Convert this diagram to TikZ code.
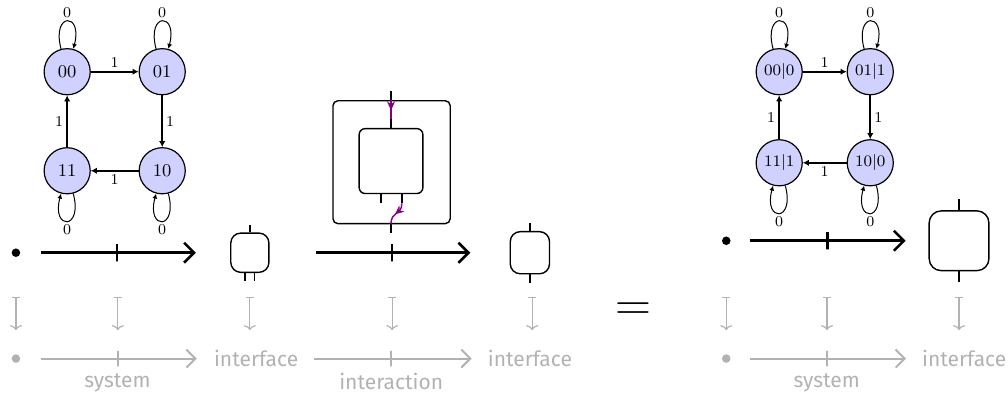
\documentclass[tikz,border=0pt]{standalone}
\usepackage{xcolor}
\usepackage{fontspec}
\usepackage{tikz}
\usetikzlibrary{arrows.meta,decorations.markings}
\newfontfamily\lblfont{Fira Sans}
\definecolor{wirepurple}{RGB}{128,0,128}
\colorlet{ghost}{black!30}

\tikzset{
  every loop/.style={},
  state/.style={circle,draw,line width=0.6pt,fill=blue!18,minimum size=0.81cm,inner sep=0pt},
  trans/.style={line width=1pt,-{Latex[length=3pt,width=3.2pt]}},
  selfloop/.style={line width=0.5pt,-{Latex[length=2.5pt,width=2.5pt]}},
  lbl/.style={font=\fontsize{7.5}{9}\selectfont,inner sep=1.5pt},
  bullet/.style={circle,fill,inner sep=0pt,minimum size=0.15cm},
  tl/.style={line width=1.3pt,-{Straight Barb[length=5pt,width=10pt]}},
  tickmark/.style={draw,line width=1.3pt,minimum height=0.3cm,minimum width=0pt,inner sep=0pt},
  ifcbox/.style={draw,line width=0.7pt,rounded corners=5pt,inner sep=0pt},
  stub/.style={line width=0.9pt},
  flow/.style={draw=wirepurple,line width=0.7pt,postaction={decorate},
    decoration={markings,mark=at position 0.55 with {\arrow{Stealth[length=4.5pt,width=4pt]}}}},
  gtl/.style={ghost,line width=1pt,-{Straight Barb[length=4.5pt,width=9pt]}},
  gtick/.style={draw=ghost,line width=1pt,minimum height=0.27cm,minimum width=0pt,inner sep=0pt},
  gtext/.style={text=ghost,font=\lblfont\fontsize{10.5}{12}\selectfont,inner sep=0.33em},
  mapsto/.style={ghost,line width=0.6pt,{Bar[width=4pt]}-{To[length=2.5pt,width=6pt]}}
}

\begin{document}
\begin{tikzpicture}
\useasboundingbox (0,0) rectangle (17.71,6.92);

% left machine
\node[state,font=\small] (s00) at (1.18,5.66) {00};
\node[state,font=\small] (s01) at (2.85,5.66) {01};
\node[state,font=\small] (s11) at (1.18,3.92) {11};
\node[state,font=\small] (s10) at (2.85,3.92) {10};
\draw[trans] (s00) -- node[lbl,above] {1} (s01);
\draw[trans] (s01) -- node[lbl,right] {1} (s10);
\draw[trans] (s10) -- node[lbl,below] {1} (s11);
\draw[trans] (s11) -- node[lbl,left] {1} (s00);
\draw[selfloop] (s00) to[loop above] node[lbl,above] {0} (s00);
\draw[selfloop] (s01) to[loop above] node[lbl,above] {0} (s01);
\draw[selfloop] (s11) to[loop below] node[lbl,below] {0} (s11);
\draw[selfloop] (s10) to[loop below] node[lbl,below] {0} (s10);

% system and first interface
\node[bullet] (dotL) at (0.28,2.48) {};
\node[ifcbox,minimum width=0.67cm,minimum height=0.69cm] (ifcA) at (4.39,2.48) {};
\draw[tl,shorten <=0.35cm,shorten >=0.6cm] (dotL) -- node[tickmark,pos=0.46] {} (ifcA);
\draw[stub] (ifcA.north) -- ++(0,0.13);
\draw[stub] ([xshift=-0.08cm]ifcA.south) -- ++(0,-0.14);
\draw[stub] ([xshift=0.08cm]ifcA.south) -- ++(0,-0.14);

% interaction
\node[ifcbox,rounded corners=2.5pt,minimum width=2.06cm,minimum height=2.16cm] (outer) at (6.88,4.07) {};
\node[ifcbox,rounded corners=3pt,minimum width=1.12cm,minimum height=1.14cm] (inner) at (6.87,4.09) {};
\draw[stub] (inner.north |- outer.north) -- ++(0,0.16);
\draw[stub] (inner.north) -- ++(0,0.16) coordinate (inport);
\draw[stub] ([xshift=-0.18cm]inner.south) -- ++(0,-0.16);
\draw[stub] ([xshift=0.19cm]inner.south) -- ++(0,-0.16) coordinate (outport);
\draw[stub] (inner.south |- outer.south) coordinate (exitport) -- ++(0,-0.16);
\draw[flow] (inner.north |- outer.north) -- (inport);
\draw[flow] (outport) .. controls ([yshift=-0.22cm]outport) and ([yshift=0.25cm]exitport) .. (exitport);
\node[ifcbox,minimum width=0.69cm,minimum height=0.74cm] (ifcB) at (9.31,2.48) {};
\draw[tl,shorten <=0.81cm,shorten >=0.69cm] (ifcA) -- node[tickmark,pos=0.51] {} (ifcB);
\draw[stub] (ifcB.north) -- ++(0,0.14);
\draw[stub] (ifcB.south) -- ++(0,-0.15);

\node[font=\Huge] (eq) at (11.13,1.44) {$=$};

% right machine
\node[state,font=\footnotesize] (t00) at (13.69,5.66) {$00|0$};
\node[state,font=\footnotesize] (t01) at (15.29,5.66) {$01|1$};
\node[state,font=\footnotesize] (t11) at (13.69,4.06) {$11|1$};
\node[state,font=\footnotesize] (t10) at (15.29,4.06) {$10|0$};
\draw[trans] (t00) -- node[lbl,above] {1} (t01);
\draw[trans] (t01) -- node[lbl,right] {1} (t10);
\draw[trans] (t10) -- node[lbl,below] {1} (t11);
\draw[trans] (t11) -- node[lbl,left] {1} (t00);
\draw[selfloop] (t00) to[loop above] node[lbl,above] {0} (t00);
\draw[selfloop] (t01) to[loop above] node[lbl,above] {0} (t01);
\draw[selfloop] (t11) to[loop below] node[lbl,below] {0} (t11);
\draw[selfloop] (t10) to[loop below] node[lbl,below] {0} (t10);

\node[bullet] (dotR) at (12.76,2.69) {};
\node[ifcbox,rounded corners=6pt,minimum width=1.05cm,minimum height=1.05cm] (ifcC) at (16.85,2.69) {};
\draw[tl,shorten <=0.33cm,shorten >=0.4cm] (dotR) -- node[tickmark,pos=0.49] {} (ifcC);
\draw[stub] (ifcC.north) -- ++(0,0.19);
\draw[stub] (ifcC.south) -- ++(0,-0.19);

% what each piece stands for
\foreach \x in {0.28,2.07,4.39,6.89,9.35,12.76,14.53,16.85}
  \draw[mapsto] (\x,1.7) -- (\x,1.12);

\node[bullet,ghost] (gdotL) at (0.28,0.62) {};
\node[gtext] (gifcA) at (4.5,0.62) {interface};
\node[gtext] (gifcB) at (9.31,0.62) {interface};
\draw[gtl,shorten <=0.35cm,shorten >=0.18cm] (gdotL) -- node[gtick,pos=0.52,label={[gtext,inner sep=1pt,label distance=1.5pt]below:system}] {} (gifcA);
\draw[gtl,shorten <=0.16cm,shorten >=0.16cm] (gifcA) -- node[gtick,pos=0.49,label={[gtext,inner sep=1pt,label distance=1.5pt]below:interaction}] {} (gifcB);

\node[bullet,ghost] (gdotR) at (12.76,0.62) {};
\node[gtext] (gifcC) at (16.94,0.62) {interface};
\draw[gtl,shorten <=0.33cm,shorten >=0.16cm] (gdotR) -- node[gtick,pos=0.52,label={[gtext,inner sep=1pt,label distance=1.5pt]below:system}] {} (gifcC);
\end{tikzpicture}
\end{document}
